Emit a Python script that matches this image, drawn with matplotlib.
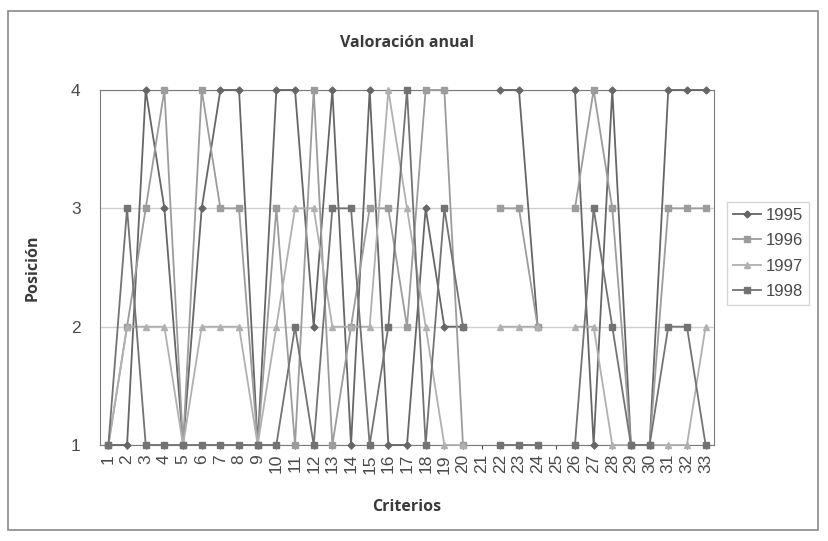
import numpy as np
import matplotlib.pyplot as plt
from matplotlib.patches import Rectangle

nan = np.nan

criterios = list(range(1, 34))

v1995 = [1, 1, 4, 3, 1, 3, 4, 4, 1, 4, 4, 2, 4, 1, 4, 1, 1, 3, 2, 2,
         nan, 4, 4, 2, nan, 4, 1, 4, 1, 1, 4, 4, 4]
v1996 = [1, 2, 3, 4, 1, 4, 3, 3, 1, 3, 1, 4, 1, 2, 3, 3, 2, 4, 4, 1,
         nan, 3, 3, 2, nan, 3, 4, 3, 1, 1, 3, 3, 3]
v1997 = [1, 2, 2, 2, 1, 2, 2, 2, 1, 2, 3, 3, 2, 2, 2, 4, 3, 2, 1, 1,
         nan, 2, 2, 2, nan, 2, 2, 1, 1, 1, 1, 1, 2]
v1998 = [1, 3, 1, 1, 1, 1, 1, 1, 1, 1, 2, 1, 3, 3, 1, 2, 4, 1, 3, 2,
         nan, 1, 1, 1, nan, 1, 3, 2, 1, 1, 2, 2, 1]

series = [
    ('1995', v1995, '#666666', 'D', 3.5),
    ('1996', v1996, '#9c9c9c', 's', 4.5),
    ('1997', v1997, '#b0b0b0', '^', 4.5),
    ('1998', v1998, '#737373', 's', 5),
]

plt.rcParams['font.family'] = ['Liberation Sans', 'DejaVu Sans']

fig = plt.figure(figsize=(8.29, 5.41), dpi=100)
fig.patches.append(Rectangle((8 / 829, 11 / 541), 810 / 829, 519 / 541,
                             transform=fig.transFigure, fill=False,
                             edgecolor='#8a8a8a', linewidth=1.2))

ax = fig.add_axes([100 / 829, 1 - 445 / 541, 614 / 829, 355 / 541])

for nombre, valores, color, marca, tam in series:
    ax.plot(criterios, valores, color=color, marker=marca, markersize=tam,
            linewidth=1.3, label=nombre, clip_on=False, zorder=3)

ax.set_xlim(0.55, 33.45)
ax.set_ylim(1, 4)
ax.set_yticks([1, 2, 3, 4])
ax.set_xticks(criterios)
ax.set_xticklabels([str(c) for c in criterios], rotation=90)
ax.tick_params(axis='both', labelsize=12.5, colors='#4a4a4a', length=3)
ax.tick_params(axis='y', length=0, pad=14)
ax.grid(axis='y', color='#cfcfcf', linewidth=1)
for s in ax.spines.values():
    s.set_color('#7a7a7a')

ax.set_title('Valoración anual', family='Open Sans', fontweight='bold',
             fontsize=11.5, color='#3a3a3a', pad=31)
ax.set_ylabel('Posición', family='Open Sans', fontweight='bold',
              fontsize=11.5, color='#3a3a3a', labelpad=22)
ax.set_xlabel('Criterios', family='Open Sans', fontweight='bold',
              fontsize=11.5, color='#3a3a3a', labelpad=18)

leg = fig.legend(loc='upper left', bbox_to_anchor=(727 / 829, 1 - 202 / 541),
                 fontsize=12, frameon=True, fancybox=False, handlelength=1.7,
                 labelspacing=0.62, borderpad=0.35, handletextpad=0.3,
                 borderaxespad=0)
leg.get_frame().set_edgecolor('#cccccc')
for t in leg.get_texts():
    t.set_color('#4a4a4a')

fig.savefig('out.png', dpi=100)
